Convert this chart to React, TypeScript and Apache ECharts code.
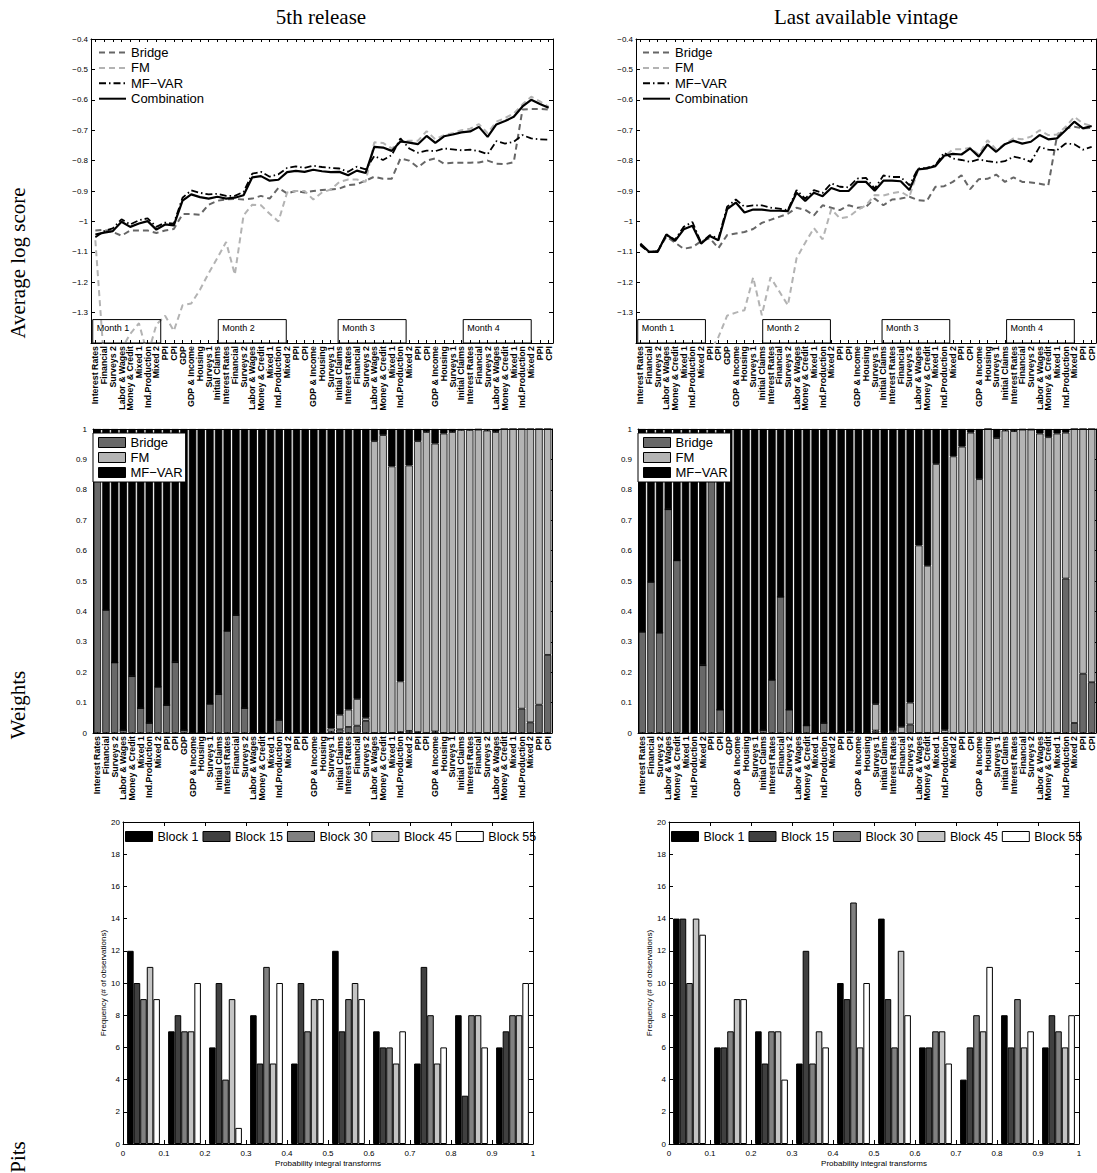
import React, { useEffect, useRef } from "react";
import * as echarts from "echarts";

// ---------------- DATA ----------------
const categories = [
  "Interest Rates", "Financial", "Surveys 2", "Labor & Wages", "Money & Credit", "Mixed 1", "Ind.Production", "Mixed 2", "PPI", "CPI", "GDP", "GDP & Income", "Housing", "Surveys 1", "Initial Claims",
  "Interest Rates", "Financial", "Surveys 2", "Labor & Wages", "Money & Credit", "Mixed 1", "Ind.Production", "Mixed 2", "PPI", "CPI", "GDP & Income", "Housing", "Surveys 1", "Initial Claims",
  "Interest Rates", "Financial", "Surveys 2", "Labor & Wages", "Money & Credit", "Mixed 1", "Ind.Production", "Mixed 2", "PPI", "CPI", "GDP & Income", "Housing", "Surveys 1", "Initial Claims",
  "Interest Rates", "Financial", "Surveys 2", "Labor & Wages", "Money & Credit", "Mixed 1", "Ind.Production", "Mixed 2", "PPI", "CPI",
];

const monthLabels = ["Month 1", "Month 2", "Month 3", "Month 4"];

// Average log score, 5th release
const bridge5 = [
  -1.030, -1.028, -1.035, -1.047, -1.030, -1.030, -1.030, -1.038, -1.030, -1.025,
  -0.976, -0.976, -0.978, -0.945, -0.932, -0.928, -0.926, -0.928, -0.925, -0.916,
  -0.925, -0.890, -0.908, -0.900, -0.905, -0.900, -0.897, -0.895, -0.892, -0.881,
  -0.878, -0.866, -0.853, -0.860, -0.860, -0.793, -0.800, -0.822, -0.800, -0.793,
  -0.810, -0.807, -0.807, -0.807, -0.806, -0.800, -0.810, -0.812, -0.805, -0.632,
  -0.630, -0.630, -0.632,
];
const fm5 = [
  -1.062, -1.460, -1.500, -1.420, -1.370, -1.335, -1.440, -1.340, -1.310, -1.360,
  -1.276, -1.270, -1.225, -1.170, -1.120, -1.068, -1.175, -0.980, -0.945, -0.947,
  -0.975, -1.000, -0.905, -0.900, -0.900, -0.928, -0.905, -0.895, -0.870, -0.862,
  -0.862, -0.870, -0.740, -0.742, -0.760, -0.738, -0.735, -0.735, -0.703, -0.730,
  -0.716, -0.710, -0.700, -0.695, -0.680, -0.710, -0.672, -0.660, -0.645, -0.615,
  -0.590, -0.605, -0.623,
];
const mfvar5 = [
  -1.052, -1.032, -1.023, -0.993, -1.010, -0.996, -0.990, -1.018, -1.004, -1.007,
  -0.922, -0.898, -0.906, -0.911, -0.909, -0.916, -0.916, -0.903, -0.843, -0.837,
  -0.853, -0.845, -0.824, -0.819, -0.824, -0.817, -0.821, -0.824, -0.826, -0.837,
  -0.820, -0.829, -0.785, -0.798, -0.782, -0.727, -0.760, -0.774, -0.767, -0.769,
  -0.760, -0.763, -0.766, -0.764, -0.769, -0.779, -0.736, -0.744, -0.738, -0.716,
  -0.727, -0.730, -0.731,
];
const comb5 = [
  -1.043, -1.037, -1.032, -1.001, -1.018, -1.007, -0.999, -1.027, -1.010, -1.013,
  -0.932, -0.911, -0.920, -0.925, -0.919, -0.925, -0.922, -0.914, -0.855, -0.851,
  -0.866, -0.863, -0.838, -0.834, -0.837, -0.830, -0.835, -0.838, -0.837, -0.848,
  -0.833, -0.841, -0.755, -0.757, -0.768, -0.737, -0.741, -0.746, -0.719, -0.742,
  -0.720, -0.714, -0.707, -0.704, -0.689, -0.722, -0.681, -0.670, -0.656, -0.622,
  -0.600, -0.614, -0.626,
];

// Average log score, last available vintage
const bridgeL = [
  -1.078, -1.100, -1.098, -1.050, -1.070, -1.090, -1.085, -1.065, -1.055, -1.088,
  -1.045, -1.040, -1.035, -1.025, -1.005, -0.995, -0.985, -0.975, -0.955, -0.962,
  -0.980, -0.947, -0.955, -0.963, -0.947, -0.955, -0.952, -0.925, -0.947, -0.928,
  -0.925, -0.919, -0.930, -0.933, -0.886, -0.884, -0.870, -0.848, -0.894, -0.861,
  -0.860, -0.846, -0.870, -0.855, -0.870, -0.872, -0.876, -0.882, -0.720, -0.694,
  -0.689, -0.694, -0.692,
];
const fmL = [
  -1.600, -1.560, -1.520, -1.580, -1.540, -1.500, -1.480, -1.460, -1.430, -1.380,
  -1.310, -1.300, -1.292, -1.184, -1.309, -1.184, -1.230, -1.276, -1.121, -1.070,
  -1.022, -1.059, -0.960, -0.990, -0.985, -0.963, -0.947, -0.913, -0.915, -0.907,
  -0.902, -0.919, -0.831, -0.826, -0.815, -0.787, -0.763, -0.763, -0.758, -0.780,
  -0.733, -0.763, -0.746, -0.727, -0.730, -0.721, -0.700, -0.716, -0.714, -0.689,
  -0.656, -0.678, -0.686,
];
const mfvarL = [
  -1.078, -1.102, -1.097, -1.045, -1.060, -1.018, -1.002, -1.070, -1.045, -1.056,
  -0.952, -0.928, -0.952, -0.947, -0.947, -0.955, -0.958, -0.963, -0.897, -0.925,
  -0.897, -0.906, -0.875, -0.886, -0.888, -0.859, -0.857, -0.892, -0.849, -0.854,
  -0.854, -0.881, -0.826, -0.824, -0.815, -0.774, -0.793, -0.798, -0.804, -0.796,
  -0.802, -0.806, -0.802, -0.787, -0.793, -0.804, -0.755, -0.764, -0.766, -0.744,
  -0.746, -0.764, -0.755,
];
const combL = [
  -1.073, -1.100, -1.100, -1.043, -1.064, -1.026, -1.014, -1.073, -1.048, -1.062,
  -0.960, -0.938, -0.971, -0.961, -0.961, -0.965, -0.965, -0.966, -0.906, -0.933,
  -0.906, -0.917, -0.890, -0.900, -0.900, -0.870, -0.870, -0.899, -0.866, -0.866,
  -0.868, -0.897, -0.829, -0.826, -0.818, -0.784, -0.778, -0.780, -0.760, -0.787,
  -0.747, -0.771, -0.746, -0.735, -0.744, -0.738, -0.716, -0.730, -0.727, -0.700,
  -0.672, -0.694, -0.686,
];

// Weights, 5th release
const wBridge5 = [
  0.880, 0.405, 0.232, 0.010, 0.187, 0.082, 0.033, 0.152, 0.092, 0.233,
  0.010, 0, 0, 0.096, 0.128, 0.336, 0.388, 0.082, 0, 0,
  0, 0.043, 0, 0, 0, 0, 0, 0.005, 0.012, 0.020,
  0.024, 0.040, 0, 0, 0, 0.003, 0.007, 0.003, 0, 0.005,
  0, 0, 0, 0, 0, 0, 0, 0, 0, 0.080,
  0.035, 0.093, 0.257,
];
const wFM5 = [
  0, 0, 0, 0, 0, 0, 0, 0, 0, 0,
  0, 0, 0, 0, 0, 0, 0, 0, 0, 0,
  0, 0, 0, 0, 0, 0, 0, 0.010, 0.048, 0.057,
  0.088, 0.010, 0.960, 0.980, 0.877, 0.167, 0.873, 0.957, 0.990, 0.947,
  0.985, 0.990, 0.997, 0.997, 0.998, 0.995, 0.990, 1.000, 1.000, 0.920,
  0.965, 0.907, 0.743,
];
const wMFVAR5 = [
  0.120, 0.595, 0.768, 0.990, 0.813, 0.918, 0.967, 0.848, 0.908, 0.767,
  0.990, 1.000, 1.000, 0.904, 0.872, 0.664, 0.612, 0.918, 1.000, 1.000,
  1.000, 0.957, 1.000, 1.000, 1.000, 1.000, 1.000, 0.985, 0.940, 0.923,
  0.888, 0.950, 0.040, 0.020, 0.123, 0.830, 0.120, 0.040, 0.010, 0.048,
  0.015, 0.010, 0.003, 0.003, 0.002, 0.005, 0.010, 0, 0, 0,
  0, 0, 0,
];

// Weights, last available vintage
const wBridgeL = [
  0.333, 0.497, 0.330, 0.736, 0.568, 0, 0, 0.223, 0.880, 0.077,
  0, 0, 0.002, 0, 0.010, 0.175, 0.448, 0.077, 0.002, 0.025,
  0, 0.033, 0, 0, 0.008, 0, 0, 0.008, 0.004, 0,
  0, 0.028, 0, 0, 0, 0, 0, 0, 0, 0,
  0, 0, 0, 0, 0, 0, 0, 0, 0, 0.508,
  0.033, 0.195, 0.167,
];
const wFML = [
  0, 0, 0, 0, 0, 0, 0, 0, 0, 0,
  0, 0, 0, 0, 0, 0, 0, 0, 0, 0,
  0, 0, 0, 0, 0, 0, 0, 0.087, 0, 0.006,
  0.020, 0.072, 0.617, 0.550, 0.885, 0.010, 0.910, 0.942, 0.988, 0.835,
  1.000, 0.970, 0.995, 0.993, 0.998, 0.998, 0.985, 0.973, 0.985, 0.480,
  0.967, 0.805, 0.833,
];
const wMFVARL = [
  0.667, 0.503, 0.670, 0.264, 0.432, 1.000, 1.000, 0.777, 0.120, 0.923,
  1.000, 1.000, 0.998, 1.000, 0.990, 0.825, 0.552, 0.923, 0.998, 0.975,
  1.000, 0.967, 1.000, 1.000, 0.992, 1.000, 1.000, 0.905, 0.996, 0.994,
  0.980, 0.900, 0.383, 0.450, 0.115, 0.990, 0.090, 0.058, 0.012, 0.165,
  0, 0.030, 0.005, 0.007, 0.002, 0.002, 0.015, 0.027, 0.015, 0.012,
  0, 0, 0,
];

// PIT histograms (10 bins on [0,1])
const pitBins = ["0.05", "0.15", "0.25", "0.35", "0.45", "0.55", "0.65", "0.75", "0.85", "0.95"];
const blockNames = ["Block 1", "Block 15", "Block 30", "Block 45", "Block 55"];
const pit5Block1 = [12, 7, 6, 8, 5, 12, 7, 5, 8, 6];
const pit5Block15 = [10, 8, 10, 5, 10, 7, 6, 11, 3, 7];
const pit5Block30 = [9, 7, 4, 11, 7, 9, 6, 8, 8, 8];
const pit5Block45 = [11, 7, 9, 5, 9, 10, 5, 5, 8, 8];
const pit5Block55 = [9, 10, 1, 10, 9, 9, 7, 6, 6, 10];
const pitLBlock1 = [14, 6, 7, 5, 10, 14, 6, 4, 8, 6];
const pitLBlock15 = [14, 6, 5, 12, 9, 9, 6, 6, 6, 8];
const pitLBlock30 = [10, 7, 7, 5, 15, 6, 7, 8, 9, 7];
const pitLBlock45 = [14, 9, 7, 7, 6, 12, 7, 7, 6, 6];
const pitLBlock55 = [13, 9, 4, 6, 10, 8, 5, 11, 7, 8];

// ---------------- STYLE ----------------
const SANS = "'Liberation Sans', Arial, Helvetica, sans-serif";
const SERIF = "'Liberation Serif', 'Times New Roman', serif";
const MINUS = "\u2212";
const MFVAR = "MF" + MINUS + "VAR";

const lineDefs = [
  { key: "Bridge", color: "#666666", width: 2, type: [6, 4] as any },
  { key: "FM", color: "#b3b3b3", width: 2, type: [6, 4] as any },
  { key: MFVAR, color: "#000000", width: 1.8, type: [7, 3, 1.5, 3] as any },
  { key: "Combination", color: "#000000", width: 2.2, type: "solid" as any },
];
const barColors = { Bridge: "#686868", FM: "#b4b4b4", MFVAR: "#000000" };
const blockColors = ["#000000", "#404040", "#808080", "#c4c4c4", "#ffffff"];

const monthStarts = [-0.3, 14.1, 27.85, 42.2];
const monthWidth = 7.8;

const axisLineStyle = { show: true, onZero: false, lineStyle: { color: "#000", width: 1 } };
const tickStyle = (len: number) => ({ show: true, inside: true, length: len, lineStyle: { color: "#000", width: 1 } });
const tickLabel = (extra: any = {}) => ({ fontFamily: SANS, fontSize: 8, color: "#000", ...extra });

function catX(gridIndex: number, position: string, labels: boolean) {
  return {
    type: "category",
    gridIndex,
    position,
    data: categories,
    boundaryGap: true,
    axisLine: axisLineStyle,
    axisTick: { ...tickStyle(3), alignWithLabel: true, interval: 0 },
    axisLabel: labels
      ? { show: true, interval: 0, rotate: 90, margin: 3, fontFamily: SANS, fontSize: 8.8, fontWeight: "bold", color: "#000" }
      : { show: false },
    splitLine: { show: false },
  };
}

function valY(gridIndex: number, position: string, min: number, max: number, interval: number, labels: boolean, fmt: any, margin = 3) {
  return {
    type: "value",
    gridIndex,
    position,
    min,
    max,
    interval,
    axisLine: axisLineStyle,
    axisTick: tickStyle(4),
    axisLabel: labels ? tickLabel({ formatter: fmt, margin }) : { show: false },
    splitLine: { show: false },
  };
}

const scoreFmt = (v: number) => {
  if (v < -1.35) return "";
  const r = Math.round(v * 10) / 10;
  return String(r).replace("-", MINUS);
};
const weightFmt = (v: number) => String(Math.round(v * 10) / 10);
const intFmt = (v: number) => String(Math.round(v));

const GRIDS = [
  { left: 91, top: 39, width: 462, height: 304 },
  { left: 636, top: 39, width: 460, height: 304 },
  { left: 93, top: 429, width: 459, height: 304 },
  { left: 638, top: 429, width: 458, height: 304 },
  { left: 123, top: 822, width: 410, height: 322 },
  { left: 669, top: 822, width: 410, height: 322 },
];

function buildOption() {
  const grids = GRIDS.map((g) => ({ ...g, containLabel: false, outerBoundsMode: "none" }));

  const histX = (gridIndex: number) => [
    { type: "category", gridIndex, data: pitBins, boundaryGap: true, show: false },
    {
      type: "value", gridIndex, position: "bottom", min: 0, max: 1, interval: 0.1,
      axisLine: axisLineStyle, axisTick: tickStyle(4),
      axisLabel: tickLabel({ margin: 5, formatter: weightFmt }),
      splitLine: { show: false },
    },
    {
      type: "value", gridIndex, position: "top", min: 0, max: 1, interval: 0.1,
      axisLine: axisLineStyle, axisTick: tickStyle(4), axisLabel: { show: false }, splitLine: { show: false },
    },
  ];
  const histY = (gridIndex: number) => [
    valY(gridIndex, "left", 0, 20, 2, true, intFmt, 3),
    valY(gridIndex, "right", 0, 20, 2, false, null),
  ];

  const xAxis = [
    catX(0, "bottom", true), catX(0, "top", false),
    catX(1, "bottom", true), catX(1, "top", false),
    catX(2, "bottom", true), catX(2, "top", false),
    catX(3, "bottom", true), catX(3, "top", false),
    ...histX(4),
    ...histX(5),
  ];
  const yAxis = [
    valY(0, "left", -1.4, -0.4, 0.1, true, scoreFmt, 3), valY(0, "right", -1.4, -0.4, 0.1, false, null),
    valY(1, "left", -1.4, -0.4, 0.1, true, scoreFmt, 3), valY(1, "right", -1.4, -0.4, 0.1, false, null),
    valY(2, "left", 0, 1, 0.1, true, weightFmt, 6), valY(2, "right", 0, 1, 0.1, false, null),
    valY(3, "left", 0, 1, 0.1, true, weightFmt, 6), valY(3, "right", 0, 1, 0.1, false, null),
    ...histY(4),
    ...histY(5),
  ];

  const lineSeries = (suffix: string, xi: number, yi: number, sets: number[][]) =>
    lineDefs.map((d, k) => ({
      name: d.key + "#" + suffix,
      type: "line",
      xAxisIndex: xi,
      yAxisIndex: yi,
      data: sets[k],
      symbol: "none",
      showSymbol: false,
      clip: true,
      color: d.color,
      itemStyle: { color: d.color },
      lineStyle: { color: d.color, width: d.width, type: d.type },
      z: 2 + k,
    }));

  const weightSeries = (suffix: string, xi: number, yi: number, b: number[], f: number[], m: number[]) => [
    { key: "Bridge", data: b, color: barColors.Bridge },
    { key: "FM", data: f, color: barColors.FM },
    { key: MFVAR, data: m, color: barColors.MFVAR },
  ].map((s) => ({
    name: s.key + "#" + suffix,
    type: "bar",
    stack: "w" + suffix,
    xAxisIndex: xi,
    yAxisIndex: yi,
    data: s.data,
    barCategoryGap: "14%",
    color: s.color,
    itemStyle: { color: s.color, borderColor: "#000", borderWidth: 0.8 },
  }));

  const pitSeries = (suffix: string, xi: number, yi: number, sets: number[][]) =>
    blockNames.map((n, k) => ({
      name: n + "#" + suffix,
      type: "bar",
      xAxisIndex: xi,
      yAxisIndex: yi,
      data: sets[k],
      barGap: "0%",
      barCategoryGap: "20%",
      color: blockColors[k],
      itemStyle: { color: blockColors[k], borderColor: "#000", borderWidth: 1 },
    }));

  const series = [
    ...lineSeries("TL", 0, 0, [bridge5, fm5, mfvar5, comb5]),
    ...lineSeries("TR", 2, 2, [bridgeL, fmL, mfvarL, combL]),
    ...weightSeries("ML", 4, 4, wBridge5, wFM5, wMFVAR5),
    ...weightSeries("MR", 6, 6, wBridgeL, wFML, wMFVARL),
    ...pitSeries("BL", 8, 8, [pit5Block1, pit5Block15, pit5Block30, pit5Block45, pit5Block55]),
    ...pitSeries("BR", 11, 10, [pitLBlock1, pitLBlock15, pitLBlock30, pitLBlock45, pitLBlock55]),
  ];

  const fmtName = (n: string) => n.split("#")[0];
  const lineLegend = (suffix: string, left: number) => ({
    orient: "vertical",
    left,
    top: 46,
    padding: 0,
    itemWidth: 27,
    itemHeight: 13,
    itemGap: 2.4,
    selectedMode: false,
    data: lineDefs.map((d) => d.key + "#" + suffix),
    formatter: fmtName,
    itemStyle: { opacity: 0 },
    textStyle: { fontFamily: SANS, fontSize: 13, color: "#000" },
  });
  const barLegend = (suffix: string, left: number) => ({
    orient: "vertical",
    left,
    top: 433,
    padding: [3, 3, 3, 5],
    itemWidth: 27,
    itemHeight: 10,
    itemGap: 2,
    icon: "rect",
    selectedMode: false,
    backgroundColor: "#fff",
    borderColor: "#000",
    borderWidth: 1,
    data: ["Bridge", "FM", MFVAR].map((k) => k + "#" + suffix),
    formatter: fmtName,
    itemStyle: { borderColor: "#000", borderWidth: 1 },
    textStyle: { fontFamily: SANS, fontSize: 13, color: "#000" },
  });
  const pitLegend = (suffix: string, left: number) => ({
    orient: "horizontal",
    left,
    top: 830,
    padding: 0,
    itemWidth: 27,
    itemHeight: 10,
    itemGap: 4,
    icon: "rect",
    selectedMode: false,
    data: blockNames.map((k) => k + "#" + suffix),
    formatter: fmtName,
    itemStyle: { borderColor: "#000", borderWidth: 1 },
    textStyle: { fontFamily: SANS, fontSize: 12.5, color: "#000" },
  });

  return {
    animation: false,
    backgroundColor: "#fff",
    grid: grids,
    xAxis,
    yAxis,
    series,
    legend: [
      lineLegend("TL", 98),
      lineLegend("TR", 642),
      barLegend("ML", 93),
      barLegend("MR", 638),
      pitLegend("BL", 125),
      pitLegend("BR", 671),
    ],
  };
}

export default function App() {
  const ref = useRef<HTMLDivElement>(null);
  useEffect(() => {
    if (!ref.current) return;
    const chart = echarts.init(ref.current, null, { renderer: "svg" });
    chart.setOption(buildOption() as any);

    const txt = (text: string, x: number, y: number, size: number, family: string, rotated = false, align = "center") => ({
      type: "text",
      x,
      y,
      rotation: rotated ? Math.PI / 2 : 0,
      z: 20,
      style: { text, fontSize: size, fontFamily: family, fill: "#000000", align, verticalAlign: "middle" },
    });

    const graphics: any[] = [
      txt("5th release", 321, 17, 21, SERIF),
      txt("Last available vintage", 866, 17, 21, SERIF),
      txt("Average log score", 18, 263, 21, SERIF, true),
      txt("Weights", 18, 705, 21, SERIF, true),
      txt("Pits", 18, 1157, 21, SERIF, true),
    ];

    // histogram axis titles
    [GRIDS[4], GRIDS[5]].forEach((g) => {
      graphics.push(txt("Probability integral transforms", g.left + g.width / 2, g.top + g.height + 19, 8, SANS));
      graphics.push(txt("Frequency (# of observations)", g.left - 20, g.top + g.height / 2, 8, SANS, true));
    });

    // month annotation boxes
    [0, 4].forEach((seriesIndex) => {
      const p0 = chart.convertToPixel({ seriesIndex } as any, [0, -1.4]) as number[];
      const p1 = chart.convertToPixel({ seriesIndex } as any, [1, -1.323]) as number[];
      if (!p0 || !p1) return;
      const band = p1[0] - p0[0];
      const yBottom = p0[1];
      const yTop = p1[1];
      monthStarts.forEach((s, k) => {
        const x = p0[0] + s * band;
        graphics.push({
          type: "rect",
          z: 10,
          shape: { x, y: yTop, width: monthWidth * band, height: yBottom - yTop },
          style: { fill: "none", stroke: "#000", lineWidth: 1 },
        });
        graphics.push({ ...txt(monthLabels[k], x + 4, yTop + 8, 9, SANS, false, "left"), z: 11 });
      });
    });

    chart.setOption({ graphic: graphics } as any);
    return () => chart.dispose();
  }, []);
  return <div ref={ref} style={{ position: "absolute", left: 0, top: 0, width: 1097, height: 1173, background: "#fff" }} />;
}
